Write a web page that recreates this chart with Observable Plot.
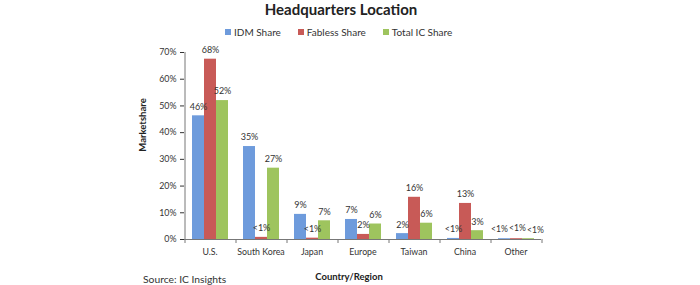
<!DOCTYPE html>
<html>
<head>
<meta charset="utf-8">
<script src="https://cdn.jsdelivr.net/npm/d3@7"></script>
<script src="https://cdn.jsdelivr.net/npm/@observablehq/plot@0.6"></script>
<style>
  html, body { margin: 0; padding: 0; background: #fff; }
  #wrap { position: relative; width: 700px; height: 285px; font-family: Lato, "Open Sans", sans-serif; color: #333; }
  .abs { position: absolute; white-space: nowrap; }
  #title { left: 341px; top: 0px; transform: translateX(-50%); font-weight: bold; font-size: 15px; color: #222; }
  #legend { left: 225px; top: 26px; font-size: 10px; display: flex; gap: 0; }
  #legend span.item { display: inline-flex; align-items: center; }
  #legend i { display: inline-block; width: 6px; height: 6px; margin-right: 3px; }
  #ylab { left: 142px; top: 125px; transform: translate(-50%, -50%) rotate(-90deg); font-weight: bold; font-size: 9.5px; color: #222; }
  #xlab { left: 349px; top: 276px; transform: translate(-50%, -50%); font-weight: bold; font-size: 9.5px; color: #222; }
  #source { left: 143px; top: 279px; transform: translateY(-50%); font-size: 10.3px; color: #333; }
</style>
</head>
<body>
<div id="wrap"></div>
<script>
const countries = ["U.S.", "South Korea", "Japan", "Europe", "Taiwan", "China", "Other"];
const series = ["IDM Share", "Fabless Share", "Total IC Share"];
const colors = ["#6e9bdc", "#c85a57", "#9ec45e"];

const idmValues     = [46.3, 34.8, 9.4, 7.5, 2.2, 0.4, 0.3];
const fablessValues = [67.5, 0.8, 0.5, 1.9, 15.8, 13.5, 0.3];
const totalValues   = [52.0, 26.7, 7.0, 5.8, 6.1, 3.3, 0.3];

const idmLabels     = ["46%", "35%", "9%", "7%", "2%", "<1%", "<1%"];
const fablessLabels = ["68%", "<1%", "<1%", "2%", "16%", "13%", "<1%"];
const totalLabels   = ["52%", "27%", "7%", "6%", "6%", "3%", "<1%"];

const yTicks = [0, 10, 20, 30, 40, 50, 60, 70];

const valueLists = [idmValues, fablessValues, totalValues];
const labelLists = [idmLabels, fablessLabels, totalLabels];
const data = [];
countries.forEach((c, i) => {
  series.forEach((s, j) => {
    data.push({country: c, series: s, value: valueLists[j][i], label: labelLists[j][i]});
  });
});

// crowded labels in the last group are spread apart, as in the reference
const lastGroup = countries[countries.length - 1];
const spreadDx = [-5, 1, 7];
const spreadDy = [-9, -10, -8];
const labelMarks = series.map((s, j) =>
  Plot.text(data.filter(d => d.series === s), {
    fx: "country", x: "series", y: "value", text: "label",
    dx: 0, dy: -9, fontSize: 9, fill: "#333",
    filter: d => d.country !== lastGroup
  })
);
const spreadMarks = series.map((s, j) =>
  Plot.text(data.filter(d => d.series === s && d.country === lastGroup), {
    fx: "country", x: "series", y: "value", text: "label",
    dx: spreadDx[j], dy: spreadDy[j], fontSize: 8.6, fill: "#333"
  })
);

const wrap = document.getElementById("wrap");

const plot = Plot.plot({
  width: 700,
  height: 285,
  marginLeft: 183,
  marginRight: 159,
  marginTop: 52,
  marginBottom: 46,
  style: {fontFamily: "Lato, 'Open Sans', sans-serif", fontSize: "8.8px", color: "#333", background: "#fff"},
  fx: {domain: countries, padding: 0, axis: "bottom", tickSize: 0, tickPadding: 9, label: null},
  x: {domain: series, paddingInner: 0, paddingOuter: 0.625, axis: null},
  y: {domain: [0, 70], ticks: yTicks, tickFormat: d => d + "%", tickSize: 4, tickPadding: 4, label: null},
  color: {domain: series, range: colors},
  marks: [
    Plot.barY(data, {fx: "country", x: "series", y: "value", fill: "series"}),
    ...labelMarks,
    ...spreadMarks,
    Plot.ruleY([0], {stroke: "#777"}),
    Plot.ruleX([0], {fx: () => countries[0], x: () => series[0], dx: -13.5, y1: () => 0, y2: () => 70, stroke: "#777"}),
    Plot.ruleX(countries, {fx: d => d, x: () => series[0], dx: -13.5, y1: () => 0, y2: () => 0, insetBottom: -4, stroke: "#777"}),
    Plot.ruleX([lastGroup], {fx: d => d, x: () => series[2], dx: 13.5, y1: () => 0, y2: () => 0, insetBottom: -4, stroke: "#777"})
  ]
});
wrap.appendChild(plot);

function addText(id, text) {
  const d = document.createElement("div");
  d.className = "abs";
  d.id = id;
  d.textContent = text;
  wrap.appendChild(d);
  return d;
}
addText("title", "Headquarters Location");
addText("ylab", "Marketshare");
addText("xlab", "Country/Region");
addText("source", "Source: IC Insights");

const legend = document.createElement("div");
legend.className = "abs";
legend.id = "legend";
const gaps = [17, 17, 0];
series.forEach((s, j) => {
  const item = document.createElement("span");
  item.className = "item";
  item.style.marginRight = gaps[j] + "px";
  const sw = document.createElement("i");
  sw.style.background = colors[j];
  item.appendChild(sw);
  item.appendChild(document.createTextNode(s));
  legend.appendChild(item);
});
wrap.appendChild(legend);
</script>
</body>
</html>
